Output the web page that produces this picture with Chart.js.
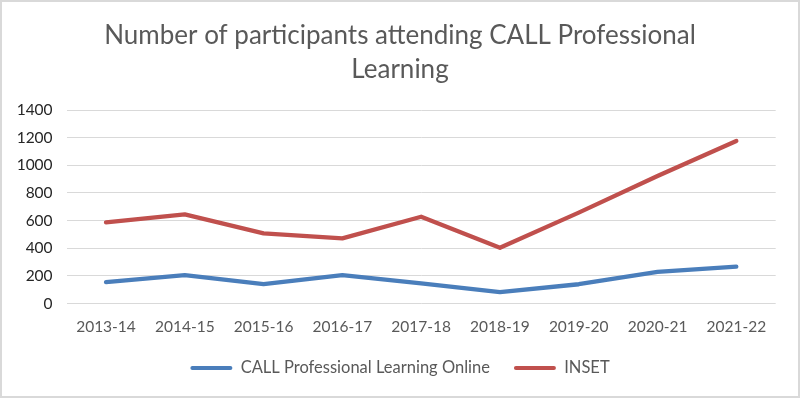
<!DOCTYPE html>
<html>
<head>
<meta charset="utf-8">
<script src="https://cdn.jsdelivr.net/npm/chart.js@4/dist/chart.umd.min.js"></script>
<style>
  html, body { margin: 0; padding: 0; background: #fff; }
  .frame {
    width: 800px;
    height: 398px;
    box-sizing: border-box;
    border: 2px solid #d9d9d9;
    background: #fff;
  }
  canvas { display: block; }
</style>
</head>
<body>
<div class="frame">
  <canvas id="participantsChart" width="796" height="394"></canvas>
</div>
<script>
// ----- data -----
const years = ["2013-14", "2014-15", "2015-16", "2016-17", "2017-18", "2018-19", "2019-20", "2020-21", "2021-22"];
const onlineCounts = [155, 206, 141, 206, 146, 83, 140, 229, 268];
const insetCounts = [588, 645, 508, 472, 628, 404, 658, 923, 1176];
const yTicks = [0, 200, 400, 600, 800, 1000, 1200, 1400];

const titleLines = ["Number of participants attending CALL Professional", "Learning"];
const onlineLabel = "CALL Professional Learning Online";
const insetLabel = "INSET";

const blue = "#4a7ebb";
const red = "#c0504d";
const font = "Lato, 'Open Sans', sans-serif";

const ctx = document.getElementById("participantsChart");

const chart = new Chart(ctx, {
  type: "line",
  data: {
    labels: years,
    datasets: [
      {
        label: onlineLabel,
        data: onlineCounts,
        borderColor: blue,
        backgroundColor: blue,
        borderWidth: 4.3,
        pointRadius: 0,
        tension: 0,
        borderCapStyle: "round",
        borderJoinStyle: "round"
      },
      {
        label: insetLabel,
        data: insetCounts,
        borderColor: red,
        backgroundColor: red,
        borderWidth: 4.3,
        pointRadius: 0,
        tension: 0,
        borderCapStyle: "round",
        borderJoinStyle: "round"
      }
    ]
  },
  options: {
    responsive: false,
    animation: false,
    layout: {
      padding: { left: 0, right: 0, top: 0, bottom: 9.75 }
    },
    plugins: {
      tooltip: { enabled: false },
      title: {
        display: true,
        text: titleLines,
        color: "#595959",
        font: { family: font, size: 26, weight: "normal", lineHeight: 1.3 },
        padding: { top: 17, bottom: 23.4 }
      },
      legend: {
        position: "bottom",
        labels: {
          color: "#595959",
          font: { family: font, size: 16.5 },
          boxWidth: 42,
          boxHeight: 4,
          padding: 24,
          generateLabels: function(c) {
            const items = Chart.defaults.plugins.legend.labels.generateLabels(c);
            return items.map(item => Object.assign(item, { lineWidth: 0, borderRadius: 2 }));
          }
        }
      }
    },
    scales: {
      x: {
        offset: true,
        grid: { display: false, drawTicks: false },
        border: { display: false },
        ticks: {
          color: "#595959",
          font: { family: font, size: 15.5 },
          padding: 14,
          maxRotation: 0,
          autoSkip: false
        },
        afterFit: function(scale) { scale.height = 32.15; }
      },
      y: {
        min: 0,
        max: 1400,
        afterBuildTicks: function(scale) {
          scale.ticks = yTicks.map(v => ({ value: v }));
        },
        grid: {
          color: "#d9d9d9",
          lineWidth: 1,
          drawTicks: false
        },
        border: { display: false },
        ticks: {
          color: "#262626",
          font: { family: font, size: 15.5 },
          padding: 14,
          callback: v => String(v)
        },
        afterFit: function(scale) { scale.width = 64.6; }
      },
      yRight: {
        position: "right",
        display: true,
        grid: { display: false },
        border: { display: false },
        ticks: { display: false },
        afterFit: function(scale) { scale.width = 22.3; }
      }
    }
  }
});
</script>
</body>
</html>
